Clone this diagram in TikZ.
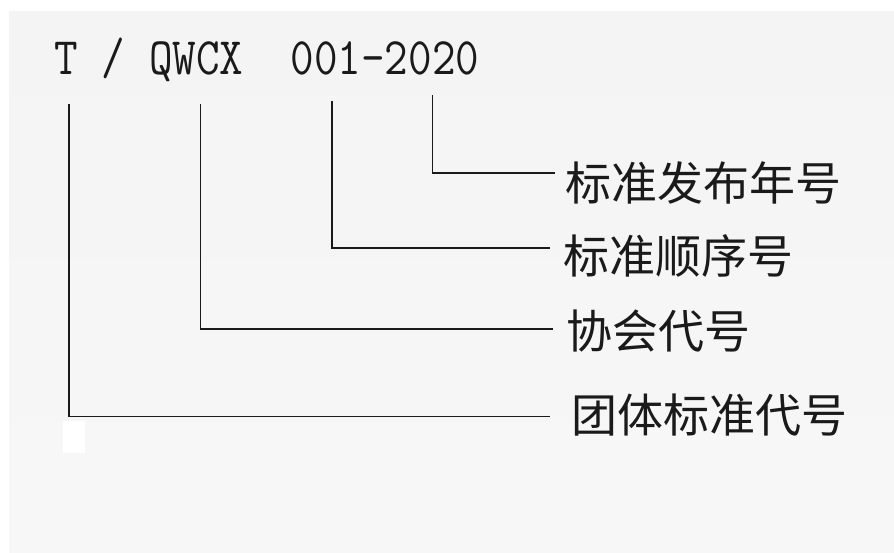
\documentclass[tikz,border=0pt]{standalone}
\usepackage{fontspec}
\newfontfamily\cjk{Noto Sans CJK SC}
\definecolor{bgc}{HTML}{F4F4F4}
\definecolor{ink}{HTML}{1A1A1A}
\begin{document}
\begin{tikzpicture}[x=1pt,y=-1pt,
  conn/.style={draw=ink,line width=1.8pt},
  lbl/.style={anchor=base west,inner sep=0pt,text=ink,font=\cjk\fontsize{46pt}{46pt}\selectfont},
  code/.style={anchor=base west,inner sep=0pt,text=ink,font=\ttfamily\fontsize{45.8pt}{45.8pt}\selectfont}]
\useasboundingbox (0,0) rectangle (894,553);
\fill[white] (0,0) rectangle (894,553);
\shade[top color=bgc,bottom color=bgc!70!white] (9,12) rectangle (894,553);
% code text
\node[code] (code) at (54.5,75) {\scalebox{1}[1.15]{T / QWCX\ \ 001-2020}};
% line tops
\coordinate (tT) at (69,104);
\coordinate (tQ) at (200.5,104);
\coordinate (tN) at (332,101);
\coordinate (tY) at (432.5,95);
% line ends
\coordinate (eY) at (555,173);
\coordinate (eN) at (550,248);
\coordinate (eQ) at (553,329);
\coordinate (eT) at (550,416.5);
% labels
\node[lbl] (lY) at (565,201) {标准发布年号};
\node[lbl] (lN) at (563,274) {标准顺序号};
\node[lbl] (lQ) at (566,348) {协会代号};
\node[lbl] (lT) at (571,432) {团体标准代号};
% connectors
\draw[conn] (tY) |- (eY);
\draw[conn] (tN) |- (eN);
\draw[conn] (tQ) |- (eQ);
\draw[conn] (tT) |- (eT);
% small white patch
\fill[white] (63,421) rectangle (85,453);
\end{tikzpicture}
\end{document}
